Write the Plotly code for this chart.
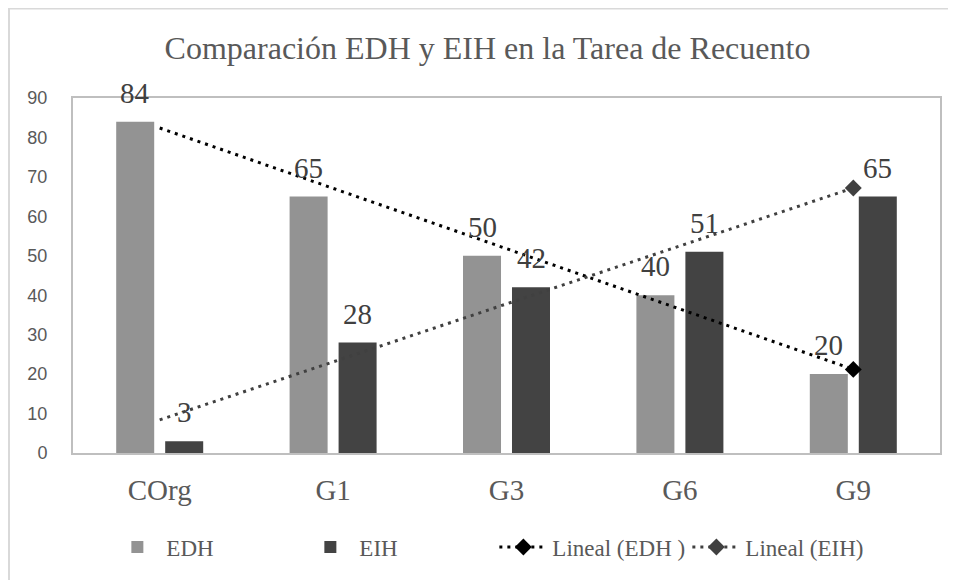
import numpy as np
import plotly.graph_objects as go

# Datos
grupos = ["COrg", "G1", "G3", "G6", "G9"]
edh = [84, 65, 50, 40, 20]
eih = [3, 28, 42, 51, 65]

serif = "Times New Roman, Liberation Serif, serif"
gris_texto = "#595959"

# Líneas de tendencia lineal (igual que la "Lineal" de Excel)
idx = np.arange(len(grupos))
a_edh, b_edh = np.polyfit(idx, edh, 1)
a_eih, b_eih = np.polyfit(idx, eih, 1)
tend_edh = a_edh * idx + b_edh
tend_eih = a_eih * idx + b_eih

fig = go.Figure()
fig.add_trace(go.Bar(x=grupos, y=edh, name="EDH", marker_color="#939393"))
fig.add_trace(go.Bar(x=grupos, y=eih, name="EIH", marker_color="#434343"))

# tendencia: línea punteada + rombo al final
for nombre, tend, color in [("Lineal (EDH )", tend_edh, "#000000"),
                            ("Lineal (EIH)", tend_eih, "#404040")]:
    fig.add_trace(go.Scatter(x=grupos, y=tend, mode="lines", legendgroup=nombre,
                             showlegend=False, hoverinfo="skip",
                             line=dict(color=color, width=3, dash="3px,5px")))
    fig.add_trace(go.Scatter(x=[grupos[-1]], y=[tend[-1]], mode="lines+markers",
                             name=nombre, legendgroup=nombre, cliponaxis=False,
                             line=dict(color=color, width=3, dash="3px,5px"),
                             marker=dict(symbol="diamond", size=13, color=color)))

# etiquetas de datos sobre las barras
for serie, dx in [(edh, -24.5), (eih, 24.5)]:
    for g, v in zip(grupos, serie):
        fig.add_annotation(x=g, y=v, text=str(v), showarrow=False,
                           xshift=dx, yshift=11, yanchor="bottom",
                           font=dict(family=serif, size=29, color="#404040"))

# borde del área del gráfico
fig.add_shape(type="rect", xref="paper", yref="paper",
              x0=-0.0738, x1=1.05, y0=-0.40, y1=1.2521,
              line=dict(color="#d9d9d9", width=2), layer="below")

fig.update_layout(
    template="none",
    width=956, height=580,
    margin=dict(l=65, r=24, t=90, b=135, autoexpand=False),
    paper_bgcolor="white", plot_bgcolor="white",
    font=dict(family=serif, color=gris_texto),
    barmode="group", bargap=0.435, bargroupgap=0.224,
    title=dict(text="Comparación EDH y EIH en la Tarea de Recuento",
               x=479.5 / 956, xanchor="center", xref="container",
               y=1 - 40 / 580, yanchor="middle", yref="container",
               font=dict(family=serif, size=32, color=gris_texto)),
    legend=dict(orientation="h", x=0.486, xanchor="center", y=-0.265,
                yanchor="middle", entrywidth=130, itemwidth=48,
                font=dict(family=serif, size=23, color=gris_texto),
                traceorder="normal"),
    showlegend=True,
)
fig.update_xaxes(showline=True, linecolor="#bfbfbf", linewidth=2, mirror=True,
                 showgrid=False, ticks="", ticklabelstandoff=10, automargin=False,
                 tickfont=dict(family=serif, size=29, color=gris_texto))
fig.update_yaxes(range=[0, 90], dtick=10, showline=True, linecolor="#bfbfbf",
                 linewidth=2, mirror=True, showgrid=False, zeroline=False,
                 ticks="", ticklabelstandoff=20, automargin=False,
                 tickfont=dict(family="Liberation Sans", size=18, color=gris_texto))

fig.write_html("out.html")
